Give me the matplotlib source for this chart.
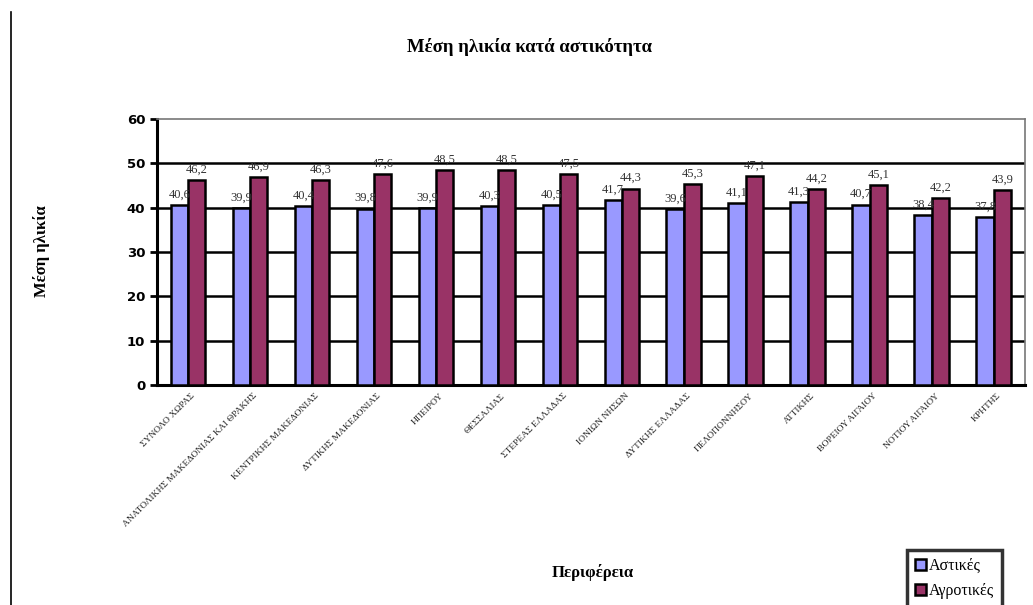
import matplotlib.pyplot as plt
import numpy as np
from matplotlib.lines import Line2D

regions = ['ΣΥΝΟΛΟ ΧΩΡΑΣ', 'ΑΝΑΤΟΛΙΚΗΣ ΜΑΚΕΔΟΝΙΑΣ ΚΑΙ ΘΡΑΚΗΣ', 'ΚΕΝΤΡΙΚΗΣ ΜΑΚΕΔΟΝΙΑΣ',
           'ΔΥΤΙΚΗΣ ΜΑΚΕΔΟΝΙΑΣ', 'ΗΠΕΙΡΟΥ', 'ΘΕΣΣΑΛΙΑΣ', 'ΣΤΕΡΕΑΣ ΕΛΛΑΔΑΣ', 'ΙΟΝΙΩΝ ΝΗΣΩΝ',
           'ΔΥΤΙΚΗΣ ΕΛΛΑΔΑΣ', 'ΠΕΛΟΠΟΝΝΗΣΟΥ', 'ΑΤΤΙΚΗΣ', 'ΒΟΡΕΙΟΥ ΑΙΓΑΙΟΥ', 'ΝΟΤΙΟΥ ΑΙΓΑΙΟΥ', 'ΚΡΗΤΗΣ']
urban = [40.6, 39.9, 40.4, 39.8, 39.9, 40.3, 40.5, 41.7, 39.6, 41.1, 41.3, 40.7, 38.4, 37.8]
rural = [46.2, 46.9, 46.3, 47.6, 48.5, 48.5, 47.5, 44.3, 45.3, 47.1, 44.2, 45.1, 42.2, 43.9]

serif = 'Liberation Serif'

fig = plt.figure(figsize=(10.33, 6.05), dpi=100)
ax = fig.add_axes([0.152, 0.3636, 0.840, 0.4397])

x = np.arange(len(regions))
w = 0.28
b1 = ax.bar(x - w/2, urban, w, color='#9999FF', edgecolor='black', linewidth=1.8, label='Αστικές', zorder=3)
b2 = ax.bar(x + w/2, rural, w, color='#993366', edgecolor='black', linewidth=1.8, label='Αγροτικές', zorder=3)

for bars, vals in [(b1, urban), (b2, rural)]:
    for bar, v in zip(bars, vals):
        ax.text(bar.get_x() + bar.get_width()/2, v + 1.0, f'{v:.1f}'.replace('.', ','),
                ha='center', va='bottom', fontsize=9, color='#333333', family=serif, zorder=4)

ax.set_xlim(-0.5, len(regions) - 0.5)
ax.set_ylim(0, 60)
ax.set_yticks([0, 10, 20, 30, 40, 50, 60])
for yv in [10, 20, 30, 40, 50]:
    ax.axhline(yv, color='black', linewidth=1.8, zorder=1)

ax.spines['left'].set_linewidth(2.2)
ax.spines['bottom'].set_linewidth(2.2)
ax.spines['top'].set_color('#777777')
ax.spines['right'].set_color('#777777')
ax.spines['top'].set_linewidth(1.2)
ax.spines['right'].set_linewidth(1.2)

ax.tick_params(axis='y', length=5, width=2, labelsize=9.5)
for lbl in ax.get_yticklabels():
    lbl.set_fontweight('semibold')
ax.tick_params(axis='x', length=0, pad=5)
ax.set_xticks(x + 0.05)
ax.set_xticklabels(regions, rotation=45, ha='right', rotation_mode='anchor',
                   fontsize=6.8, family=serif, color='#222222')

fig.text(0.513, 0.922, 'Μέση ηλικία κατά αστικότητα', ha='center', va='center',
         fontsize=13.5, family=serif, fontweight='bold')
fig.text(0.040, 0.585, 'Μέση ηλικία', rotation=90, ha='center', va='center',
         fontsize=12, family=serif, fontweight='bold')
fig.text(0.574, 0.053, 'Περιφέρεια', ha='center', va='center',
         fontsize=12, family=serif, fontweight='bold')

leg = fig.legend(handles=[b1, b2], loc='lower right', bbox_to_anchor=(0.975, -0.012),
                 prop={'family': serif, 'size': 11.5}, frameon=True, fancybox=False,
                 handlelength=0.7, handleheight=0.7, handletextpad=0.2, labelspacing=0.6,
                 borderpad=0.5, borderaxespad=0.3)
leg.get_frame().set_edgecolor('black')
leg.get_frame().set_linewidth(2.5)

fig.add_artist(Line2D([0.0107, 0.0107], [0, 0.98], color='black', linewidth=1.2,
                      transform=fig.transFigure))

fig.savefig('out.png', dpi=100)
